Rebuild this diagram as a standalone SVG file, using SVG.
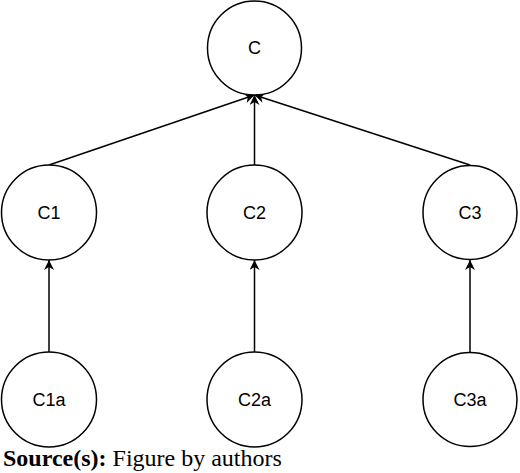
<svg xmlns="http://www.w3.org/2000/svg" width="520" height="473" viewBox="0 0 520 473">
<style>
.node circle{fill:#fff;stroke:#000;stroke-width:1.5}
.node text{font-family:"Liberation Sans",Arial,sans-serif;font-size:18px;fill:#000;text-anchor:middle;dominant-baseline:central}
.edge{stroke:#000;stroke-width:1.5;fill:none;marker-end:url(#arr)}
.cap{font-family:"Liberation Serif","Times New Roman",serif;font-size:24px;fill:#000}
</style>
<defs>
<marker id="arr" viewBox="0 0 10 10" refX="10" refY="5" markerWidth="10" markerHeight="10" markerUnits="userSpaceOnUse" orient="auto">
<path d="M0,0 L10,5 L0,10 L3,5 Z" fill="#000"/>
</marker>
</defs>
<rect width="520" height="473" fill="#fff"/>
<g id="connectors">
<line class="edge" x1="49" y1="165" x2="254.5" y2="95"/>
<line class="edge" x1="254.5" y1="165" x2="254.5" y2="95"/>
<line class="edge" x1="470" y1="165" x2="254.5" y2="95"/>
<line class="edge" x1="49" y1="352" x2="49" y2="260"/>
<line class="edge" x1="254.5" y1="352" x2="254.5" y2="260"/>
<line class="edge" x1="470" y1="352" x2="470" y2="260"/>
</g>
<g id="node-C" class="node"><circle cx="254.5" cy="48" r="47"/><text x="254.5" y="48">C</text></g>
<g id="node-C1" class="node"><circle cx="49" cy="212.5" r="47.5"/><text x="49" y="212.5">C1</text></g>
<g id="node-C2" class="node"><circle cx="254.5" cy="212.5" r="47.5"/><text x="254.5" y="212.5">C2</text></g>
<g id="node-C3" class="node"><circle cx="470" cy="212.5" r="47"/><text x="470" y="212.5">C3</text></g>
<g id="node-C1a" class="node"><circle cx="49" cy="399.5" r="47.5"/><text x="49" y="399.5">C1a</text></g>
<g id="node-C2a" class="node"><circle cx="254.5" cy="399.5" r="47.5"/><text x="254.5" y="399.5">C2a</text></g>
<g id="node-C3a" class="node"><circle cx="470" cy="399.5" r="47"/><text x="470" y="399.5">C3a</text></g>
<text class="cap" x="3" y="466"><tspan font-weight="bold">Source(s):</tspan> Figure by authors</text>
</svg>
